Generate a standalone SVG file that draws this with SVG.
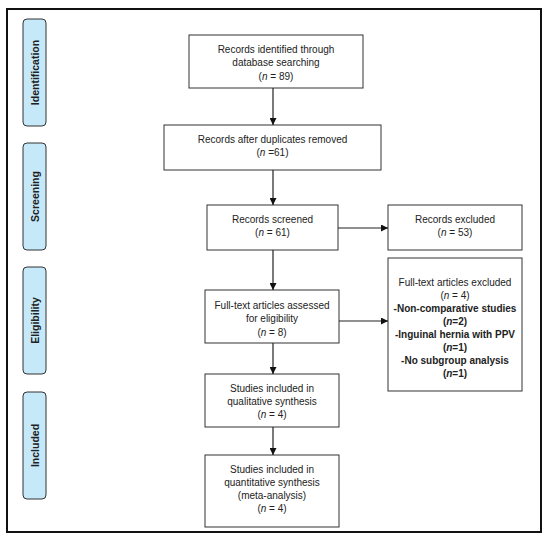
<svg xmlns="http://www.w3.org/2000/svg" width="550" height="541" viewBox="0 0 550 541">
<defs>
<style>
.box{fill:#fff;stroke:#333;stroke-width:1}
.side{fill:#c6e9fa;stroke:#333;stroke-width:1}
.t{font-family:"Liberation Sans",Arial,sans-serif;font-size:10px;fill:#222;text-anchor:middle}
.b{font-weight:bold}
.s{font-family:"Liberation Sans",Arial,sans-serif;font-size:10.5px;font-weight:bold;fill:#222;text-anchor:middle}
.c{stroke:#222;stroke-width:1.2;fill:none;marker-end:url(#ah)}
</style>
<marker id="ah" viewBox="0 0 10 10" refX="10" refY="5" markerWidth="7" markerHeight="7" markerUnits="userSpaceOnUse" orient="auto">
<path d="M0,0 L10,5 L0,10 z" fill="#111"/>
</marker>
</defs>
<rect x="0" y="0" width="550" height="541" fill="#fff"/>
<rect x="7" y="9" width="534" height="523" fill="none" stroke="#111" stroke-width="2"/>

<g id="phase-identification"><rect class="side" x="23" y="19" width="23" height="107" rx="4"/><text class="s" transform="translate(38.5,72.5) rotate(-90)">Identification</text></g>
<g id="phase-screening"><rect class="side" x="23" y="143" width="23" height="107" rx="4"/><text class="s" transform="translate(38.5,196.5) rotate(-90)">Screening</text></g>
<g id="phase-eligibility"><rect class="side" x="23" y="267" width="23" height="107" rx="4"/><text class="s" transform="translate(38.5,320.5) rotate(-90)">Eligibility</text></g>
<g id="phase-included"><rect class="side" x="23" y="392" width="23" height="107" rx="4"/><text class="s" transform="translate(38.5,445.5) rotate(-90)">Included</text></g>

<g id="identified"><rect class="box" x="189" y="35" width="174" height="53"/>
<text class="t" x="276" y="53">Records identified through</text>
<text class="t" x="276" y="66">database searching</text>
<text class="t" x="276" y="80">(<tspan font-style="italic">n</tspan> = 89)</text></g>

<g id="deduplicated"><rect class="box" x="164" y="125" width="217" height="45"/>
<text class="t" x="272.5" y="143">Records after duplicates removed</text>
<text class="t" x="272.5" y="156">(<tspan font-style="italic">n</tspan> =61)</text></g>

<g id="screened"><rect class="box" x="207" y="205" width="131" height="45"/>
<text class="t" x="272.5" y="223">Records screened</text>
<text class="t" x="272.5" y="236">(<tspan font-style="italic">n</tspan> = 61)</text></g>

<g id="excluded"><rect class="box" x="388" y="205" width="134" height="45"/>
<text class="t" x="455" y="223">Records excluded</text>
<text class="t" x="455" y="236">(<tspan font-style="italic">n</tspan> = 53)</text></g>

<g id="fulltext"><rect class="box" x="205" y="290" width="134" height="53"/>
<text class="t" x="272" y="309">Full-text articles assessed</text>
<text class="t" x="272" y="322">for eligibility</text>
<text class="t" x="272" y="336">(<tspan font-style="italic">n</tspan> = 8)</text></g>

<g id="fulltext-excluded"><rect class="box" x="388" y="258" width="134" height="133"/>
<text class="t" x="455" y="286">Full-text articles excluded</text>
<text class="t" x="455" y="299">(<tspan font-style="italic">n</tspan> = 4)</text>
<text class="t b" x="455" y="312">-Non-comparative studies</text>
<text class="t b" x="455" y="325">(<tspan font-style="italic">n</tspan>=2)</text>
<text class="t b" x="455" y="338">-Inguinal hernia with PPV</text>
<text class="t b" x="455" y="351">(<tspan font-style="italic">n</tspan>=1)</text>
<text class="t b" x="455" y="364">-No subgroup analysis</text>
<text class="t b" x="455" y="377">(<tspan font-style="italic">n</tspan>=1)</text></g>

<g id="qualitative"><rect class="box" x="205" y="374" width="134" height="53"/>
<text class="t" x="272" y="392">Studies included in</text>
<text class="t" x="272" y="405">qualitative synthesis</text>
<text class="t" x="272" y="418">(<tspan font-style="italic">n</tspan> = 4)</text></g>

<g id="quantitative"><rect class="box" x="205" y="455" width="134" height="72"/>
<text class="t" x="272" y="473">Studies included in</text>
<text class="t" x="272" y="486">quantitative synthesis</text>
<text class="t" x="272" y="499">(meta-analysis)</text>
<text class="t" x="272" y="512">(<tspan font-style="italic">n</tspan> = 4)</text></g>

<g id="connectors">
<line class="c" x1="273" y1="88" x2="273" y2="125"/>
<line class="c" x1="273" y1="170" x2="273" y2="205"/>
<line class="c" x1="338" y1="228" x2="388" y2="228"/>
<line class="c" x1="273" y1="250" x2="273" y2="290"/>
<line class="c" x1="339" y1="321" x2="388" y2="321"/>
<line class="c" x1="273" y1="343" x2="273" y2="374"/>
<line class="c" x1="273" y1="427" x2="273" y2="455"/>
</g>
</svg>
